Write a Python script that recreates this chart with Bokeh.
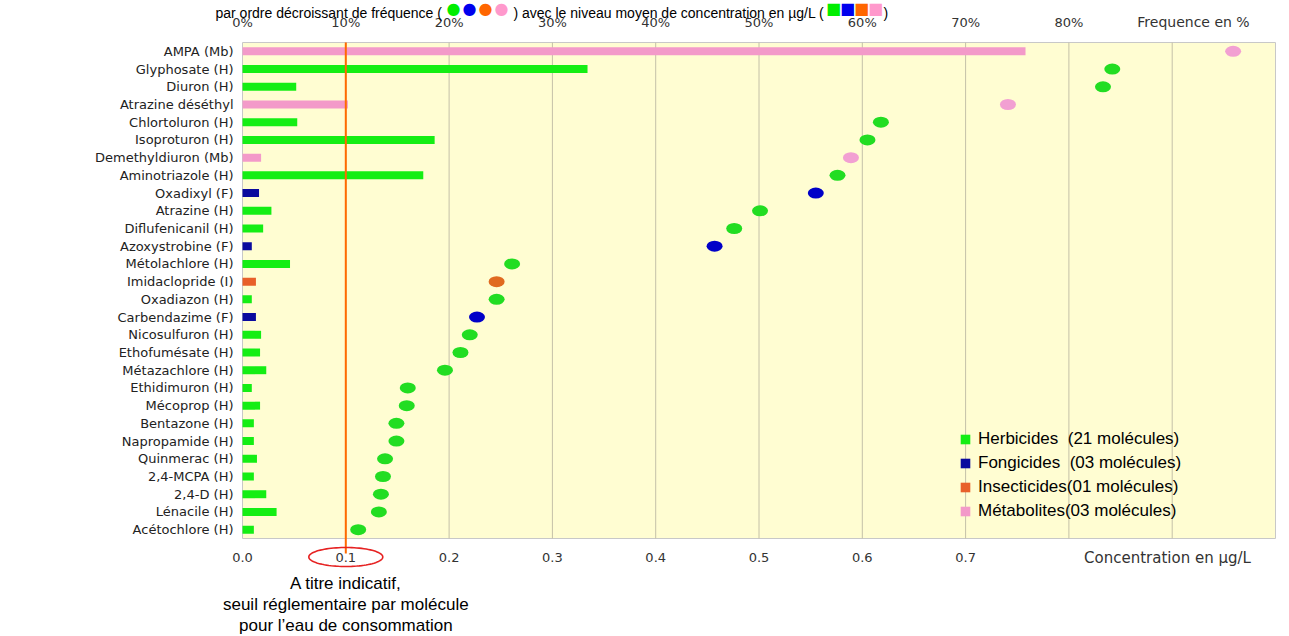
import numpy as np
from bokeh.plotting import figure
from bokeh.models import (Range1d, LinearAxis, FixedTicker, Label, Legend, LegendItem,
                          PolyAnnotation, Arrow, PrintfTickFormatter, BoxAnnotation)
from bokeh.embed import file_html
from bokeh.resources import INLINE

# ---------------- data ----------------
molecules = [
    "AMPA (Mb)", "Glyphosate (H)", "Diuron (H)", "Atrazine déséthyl", "Chlortoluron (H)",
    "Isoproturon (H)", "Demethyldiuron (Mb)", "Aminotriazole (H)", "Oxadixyl (F)", "Atrazine (H)",
    "Diflufenicanil (H)", "Azoxystrobine (F)", "Métolachlore (H)", "Imidaclopride (I)",
    "Oxadiazon (H)", "Carbendazime (F)", "Nicosulfuron (H)", "Ethofumésate (H)",
    "Métazachlore (H)", "Ethidimuron (H)", "Mécoprop (H)", "Bentazone (H)", "Napropamide (H)",
    "Quinmerac (H)", "2,4-MCPA (H)", "2,4-D (H)", "Lénacile (H)", "Acétochlore (H)",
]
groups = ["M", "H", "H", "M", "H", "H", "M", "H", "F", "H", "H", "F", "H", "I",
          "H", "F", "H", "H", "H", "H", "H", "H", "H", "H", "H", "H", "H", "H"]
frequency_pct = [95.9, 84.2, 83.3, 74.1, 61.8, 60.5, 58.9, 57.6, 55.5, 50.1, 47.6, 45.7,
                 26.1, 24.6, 24.6, 22.7, 22.0, 21.1, 19.6, 16.0, 15.9, 14.9, 14.9, 13.8,
                 13.6, 13.4, 13.2, 11.2]
concentration = [0.758, 0.334, 0.052, 0.102, 0.053, 0.186, 0.018, 0.175, 0.016, 0.028,
                 0.020, 0.009, 0.046, 0.013, 0.009, 0.013, 0.018, 0.017, 0.023, 0.009,
                 0.017, 0.011, 0.011, 0.014, 0.011, 0.023, 0.033, 0.011]

group_order = ["H", "F", "I", "M"]
legend_labels = {
    "H": "Herbicides  (21 molécules)",
    "F": "Fongicides  (03 molécules)",
    "I": "Insecticides(01 molécules)",
    "M": "Métabolites(03 molécules)",
}
conc_ticks = [0.0, 0.1, 0.2, 0.3, 0.4, 0.5, 0.6, 0.7]
grid_ticks = [0.1, 0.2, 0.3, 0.4, 0.5, 0.6, 0.7, 0.8, 0.9]
freq_ticks = [0, 10, 20, 30, 40, 50, 60, 70, 80]
freq_tick_labels = ["0%", "10%", "20%", "30%", "40%", "50%", "60%", "70%", "80%"]
conc_max = 1.0
freq_max = 100.0
threshold = 0.1

title_left = "par ordre décroissant de fréquence ("
title_mid = ") avec le niveau moyen de concentration en µg/L ("
title_right = ")"
freq_axis_title = "Frequence en %"
conc_axis_title = "Concentration en µg/L"
note_lines = ["A titre indicatif,", "seuil réglementaire par molécule",
              "pour l\u2019eau de consommation"]

# ---------------- styles / layout ----------------
bar_colors = {"H": "#14ee14", "F": "#0a0a9e", "I": "#e8602a", "M": "#f39ac9"}
dot_colors = {"H": "#22dd22", "F": "#0000c8", "I": "#e06a20", "M": "#f2a0d2"}
legend_colors = ["#00ee00", "#0000ee", "#ff6600", "#ff99cc"]
TICK_FONT = "DejaVu Sans"
TEXT_FONT = "Liberation Sans"

W, H = 1289, 636
FL, FR, FT, FB = 242, 1275, 42, 538   # plotting area edges, in canvas pixels
NROWS = len(molecules)
ROW = (FB - FT) / NROWS


def xd(px):
    """canvas x pixel -> concentration coordinate"""
    return (px - FL) / (FR - FL) * conc_max


def yd(py):
    """canvas y pixel -> row coordinate"""
    return 0.5 + (FB - py) / ROW


y_pos = [NROWS - i for i in range(NROWS)]

p = figure(width=W, height=H, output_backend="svg", toolbar_location=None,
           x_range=Range1d(xd(0), xd(W)), y_range=Range1d(yd(H), yd(0)),
           min_border=0, min_border_left=0, min_border_right=0, min_border_top=0,
           min_border_bottom=0, background_fill_color="white", border_fill_color="white",
           outline_line_color=None)
p.extra_x_ranges = {"freq": Range1d(xd(0) / conc_max * freq_max, xd(W) / conc_max * freq_max)}
p.xgrid.visible = False
p.ygrid.visible = False

# plotting area
p.add_layout(BoxAnnotation(left=0, right=conc_max, bottom=0.5, top=NROWS + 0.5,
                           fill_color="#fffdd2", fill_alpha=1, line_color="#c8c8c8",
                           line_alpha=1, line_width=1, level="underlay"))
p.segment(x0=grid_ticks, y0=0.5, x1=grid_ticks, y1=NROWS + 0.5,
          line_color="#c4c0a8", line_width=1)

# bottom axis (concentration)
bx = p.xaxis[0]
bx.fixed_location = 0.5
bx.ticker = FixedTicker(ticks=conc_ticks)
bx.formatter = PrintfTickFormatter(format="%.1f")
bx.axis_line_color = None
bx.major_tick_line_color = None
bx.minor_tick_line_color = None
bx.major_label_standoff = 8
bx.major_label_text_font = TICK_FONT
bx.major_label_text_font_size = "13px"
bx.major_label_text_color = "#333333"

# top axis (frequency)
tx = LinearAxis(x_range_name="freq", ticker=FixedTicker(ticks=freq_ticks),
                major_label_overrides={t: l for t, l in zip(freq_ticks, freq_tick_labels)},
                fixed_location=NROWS + 0.5)
tx.axis_line_color = None
tx.major_tick_line_color = None
tx.minor_tick_line_color = None
tx.major_label_standoff = 7
tx.major_label_text_font = TICK_FONT
tx.major_label_text_font_size = "13px"
tx.major_label_text_color = "#333333"
p.add_layout(tx, "above")

# left axis (molecules)
ya = p.yaxis[0]
ya.fixed_location = 0
ya.ticker = FixedTicker(ticks=y_pos)
ya.major_label_overrides = {y: m for y, m in zip(y_pos, molecules)}
ya.axis_line_color = None
ya.major_tick_line_color = None
ya.minor_tick_line_color = None
ya.major_label_standoff = 3
ya.major_label_text_font = TICK_FONT
ya.major_label_text_font_size = "13px"
ya.major_label_text_color = "#222222"

# bars: mean concentration
bar_renderers = {}
for g in group_order:
    idx = [i for i, gg in enumerate(groups) if gg == g]
    bar_renderers[g] = p.hbar(y=[y_pos[i] for i in idx],
                              right=[concentration[i] for i in idx], left=0,
                              height=0.45, fill_color=bar_colors[g], line_color=None)

# dots: frequency
p.ellipse(x=frequency_pct, y=y_pos, width=16, height=11,
          width_units="screen", height_units="screen", x_range_name="freq",
          fill_color=[dot_colors[g] for g in groups], line_color=None)

# threshold line at 0.1 µg/L
p.add_layout(Arrow(x_start=threshold, y_start=NROWS + 0.5, x_end=threshold, y_end=yd(553),
                   end=None, line_color="#ff6a00", line_width=2))

# ellipse round the 0.1 tick label
t = np.linspace(0, 2 * np.pi, 90)
p.add_layout(PolyAnnotation(xs=list(threshold + 37 / (FR - FL) * np.cos(t)),
                            ys=list(yd(556.5) + 9.5 / ROW * np.sin(t)),
                            fill_alpha=0, line_color="#e62222", line_alpha=1,
                            line_width=1.6))

for k, line in enumerate(note_lines):
    p.add_layout(Label(x=threshold, y=yd(583 + 21 * k), text=line, text_align="center",
                       text_baseline="middle", text_font=TEXT_FONT,
                       text_font_size="17px", text_color="black"))

# axis titles
p.add_layout(Label(x=xd(1193), y=yd(21), text=freq_axis_title, text_align="center",
                   text_baseline="middle", text_font=TICK_FONT,
                   text_font_size="14px", text_color="#333333"))
p.add_layout(Label(x=xd(1167), y=yd(557), text=conc_axis_title, text_align="center",
                   text_baseline="middle", text_font=TICK_FONT,
                   text_font_size="15px", text_color="#333333"))

# title: text, coloured dots, text, coloured squares, text
TITLE_SIZE = 14
TITLE_BASE = 12.5
x0 = 215
w_left = 226
w_mid = 310
p.add_layout(Label(x=xd(x0), y=yd(TITLE_BASE), text=title_left, text_align="left",
                   text_baseline="alphabetic", text_font=TEXT_FONT,
                   text_font_size=f"{TITLE_SIZE}px", text_color="black"))
cx = x0 + w_left + 12
for k, c in enumerate(legend_colors):
    p.add_layout(Label(x=xd(cx + 16 * k), y=yd(8), text="\u25CF", text_align="center",
                       text_baseline="middle", text_font="DejaVu Sans",
                       text_font_size="16px", text_color=c))
mx = cx + 16 * 3 + 12
p.add_layout(Label(x=xd(mx), y=yd(TITLE_BASE), text=title_mid, text_align="left",
                   text_baseline="alphabetic", text_font=TEXT_FONT,
                   text_font_size=f"{TITLE_SIZE}px", text_color="black"))
sx = mx + w_mid + 10
for k, c in enumerate(legend_colors):
    p.add_layout(Label(x=xd(sx + 14 * k), y=yd(8), text="\u25A0", text_align="center",
                       text_baseline="middle", text_font="DejaVu Sans",
                       text_font_size="16px", text_color=c))
p.add_layout(Label(x=xd(sx + 14 * 3 + 8), y=yd(TITLE_BASE), text=title_right,
                   text_align="left", text_baseline="alphabetic", text_font=TEXT_FONT,
                   text_font_size=f"{TITLE_SIZE}px", text_color="black"))

# legend
legend = Legend(items=[LegendItem(label=legend_labels[g], renderers=[bar_renderers[g]])
                       for g in group_order],
                location=(959, H - 521), padding=0, margin=0,
                glyph_width=12, glyph_height=12, label_standoff=7, label_height=21,
                spacing=3, background_fill_alpha=0, border_line_alpha=0,
                label_text_font=TEXT_FONT, label_text_font_size="17px",
                label_text_color="black")
p.add_layout(legend)

open("out.html", "w").write(file_html(p, INLINE))
